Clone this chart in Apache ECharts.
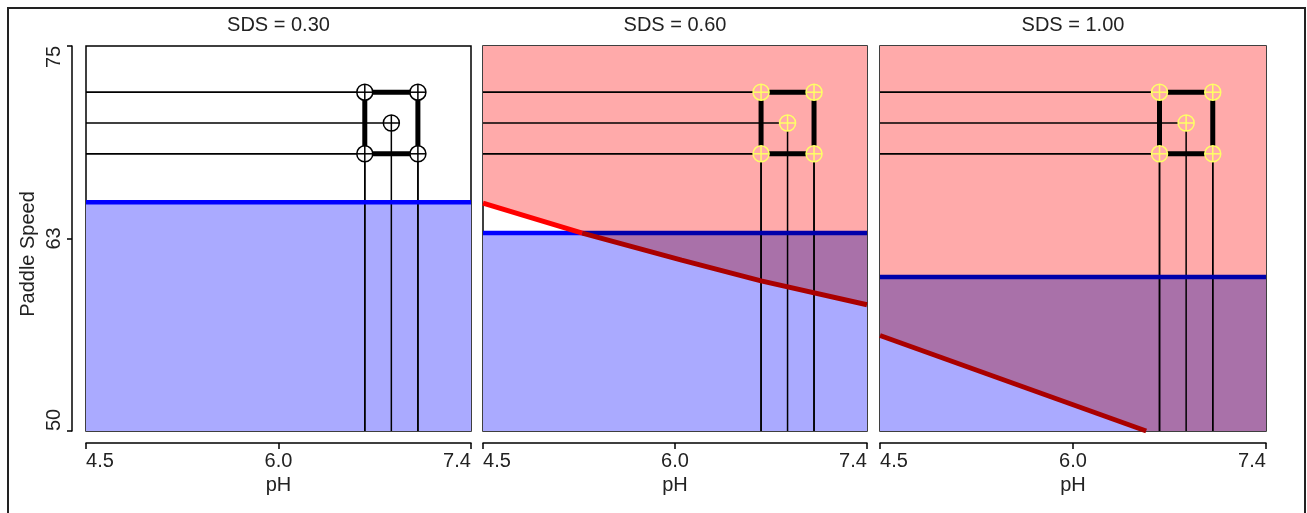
<!DOCTYPE html>
<html><head><meta charset="utf-8">
<script src="https://cdn.jsdelivr.net/npm/echarts@6/dist/echarts.min.js"></script>
<style>html,body{margin:0;padding:0;background:#fff}#c{width:1307px;height:513px}</style>
</head><body><div id="c"></div>
<script>
// ---------- data ----------
const panelTitles = ['SDS = 0.30', 'SDS = 0.60', 'SDS = 1.00'];
const phTicks = [4.5, 5.95, 7.4];
const phTickLabels = ['4.5', '6.0', '7.4'];
const speedTicks = [50, 62.5, 75];
const speedTickLabels = ['50', '63', '75'];
const blueLevel = [64.85, 62.85, 60.0];
const redPH = [null, [4.5, 5.25, 6.0, 6.6, 7.4], [4.5, 6.5, 7.4]];
const redSpeed = [null, [64.8, 62.85, 61.1, 59.75, 58.2], [56.2, 50.0, 47.2]];
const designPH = [6.6, 7.0, 6.8, 6.6, 7.0];
const designSpeed = [72, 72, 70, 68, 68];
const squareOrder = [0, 1, 4, 3, 0];

// ---------- layout / style ----------
const gridLeft = [86, 483, 880];
const gridWidth = [385, 384, 386];
const gridTop = 46, gridHeight = 385;
const FF = '"Liberation Sans", Arial, sans-serif';
const FS = 20;
const TXT = '#222';
const C_BLUE_FILL = '#aaaaff', C_PINK_FILL = '#ffaaaa', C_PURPLE_FILL = '#a971a9';
const C_BLUE = '#0000ff', C_BLUE_DARK = '#0000aa', C_RED = '#ff0000', C_RED_DARK = '#aa0000';
const markerColors = ['#000000', '#ffff66', '#ffff66'];
const xMin = phTicks[0], xMax = phTicks[phTicks.length - 1];
const yMin = speedTicks[0], yMax = speedTicks[speedTicks.length - 1];

function nearestIdx(arr, v) {
  let b = 0;
  arr.forEach((a, k) => { if (Math.abs(a - v) < Math.abs(arr[b] - v)) b = k; });
  return b;
}
// clip polygon to half-plane (keep y >= lim if keepAbove, else y <= lim)
function clipPoly(poly, lim, keepAbove) {
  const inside = p => keepAbove ? p[1] >= lim : p[1] <= lim;
  const out = [];
  for (let k = 0; k < poly.length; k++) {
    const a = poly[k], b = poly[(k + 1) % poly.length];
    const ain = inside(a), bin = inside(b);
    if (ain) out.push(a);
    if (ain !== bin) {
      const t = (lim - a[1]) / (b[1] - a[1]);
      out.push([a[0] + t * (b[0] - a[0]), lim]);
    }
  }
  return out;
}
// split polyline at horizontal level; returns [{pts, above}]
function splitPolyline(pts, lim) {
  const segs = [];
  let cur = [pts[0]];
  let curAbove = pts[0][1] >= lim;
  for (let k = 1; k < pts.length; k++) {
    const a = pts[k - 1], b = pts[k];
    const bAbove = b[1] >= lim;
    if (bAbove !== curAbove && b[1] !== lim) {
      const t = (lim - a[1]) / (b[1] - a[1]);
      const m = [a[0] + t * (b[0] - a[0]), lim];
      cur.push(m);
      segs.push({ pts: cur, above: curAbove });
      cur = [m];
      curAbove = bAbove;
    }
    cur.push(b);
  }
  segs.push({ pts: cur, above: curAbove });
  return segs.filter(s => s.pts.length > 1);
}
function clipPolylineMin(pts, lim) {
  return splitPolyline(pts, lim).filter(s => s.above).map(s => s.pts);
}
function interpRed(i, x) {
  const xs = redPH[i], ys = redSpeed[i];
  for (let k = 1; k < xs.length; k++) {
    if (x <= xs[k]) { const t = (x - xs[k - 1]) / (xs[k] - xs[k - 1]); return ys[k - 1] + t * (ys[k] - ys[k - 1]); }
  }
  return ys[ys.length - 1];
}
const richTxt = { fontSize: FS, fontFamily: FF, color: TXT };

const grids = [], xAxes = [], yAxes = [], series = [], graphics = [];
graphics.push({ type: 'rect', z: 0, shape: { x: 8, y: 8, width: 1297, height: 520 },
  style: { fill: 'none', stroke: '#222', lineWidth: 2 } });
graphics.push({ type: 'text', x: 28, y: 254, rotation: Math.PI / 2,
  style: { text: 'Paddle Speed', font: FS + 'px ' + FF, fill: TXT, align: 'center', verticalAlign: 'middle',
    textAlign: 'center', textVerticalAlign: 'middle' } });

for (let i = 0; i < 3; i++) {
  grids.push({ left: gridLeft[i], top: gridTop, width: gridWidth[i], height: gridHeight,
    show: true, borderColor: '#000', borderWidth: 1.5, backgroundColor: '#fff', outerBoundsMode: 'none' });
  graphics.push({ type: 'text', x: gridLeft[i] + gridWidth[i] / 2, y: 25.5,
    style: { text: panelTitles[i], font: FS + 'px ' + FF, fill: TXT, align: 'center', verticalAlign: 'middle',
      textAlign: 'center', textVerticalAlign: 'middle' } });
  xAxes.push({
    gridIndex: i, type: 'value', min: xMin, max: xMax, position: 'bottom', offset: 12,
    axisLine: { show: true, onZero: false, lineStyle: { color: '#000', width: 1.5 } },
    axisTick: { show: true, length: 6, customValues: phTicks, lineStyle: { color: '#000', width: 1.5 } },
    axisLabel: {
      customValues: phTicks, margin: 8, fontSize: FS, fontFamily: FF, color: TXT,
      formatter: v => {
        const k = nearestIdx(phTicks, v);
        if (k === 0) return '{l|' + phTickLabels[k] + '}';
        if (k === phTicks.length - 1) return '{r|' + phTickLabels[k] + '}';
        return phTickLabels[k];
      },
      rich: { l: Object.assign({ padding: [0, 0, 0, 28] }, richTxt), r: Object.assign({ padding: [0, 28, 0, 0] }, richTxt) }
    },
    splitLine: { show: false },
    name: 'pH', nameLocation: 'middle', nameGap: 30,
    nameTextStyle: { fontSize: FS, fontFamily: FF, color: TXT }
  });
  if (i === 0) {
    yAxes.push({
      gridIndex: i, type: 'value', min: yMin, max: yMax, position: 'left', offset: 14,
      axisLine: { show: true, onZero: false, lineStyle: { color: '#000', width: 1.5 } },
      axisTick: { show: true, length: 5, customValues: speedTicks, lineStyle: { color: '#000', width: 1.5 } },
      axisLabel: {
        customValues: speedTicks, rotate: 90, margin: 8, fontSize: FS, fontFamily: FF, color: TXT,
        formatter: v => {
          const k = nearestIdx(speedTicks, v);
          if (k === 0) return '{l|' + speedTickLabels[k] + '}';
          if (k === speedTicks.length - 1) return '{r|' + speedTickLabels[k] + '}';
          return speedTickLabels[k];
        },
        rich: { l: Object.assign({ padding: [0, 0, 0, 22] }, richTxt), r: Object.assign({ padding: [0, 22, 0, 0] }, richTxt) }
      },
      splitLine: { show: false }
    });
  } else {
    yAxes.push({ gridIndex: i, type: 'value', min: yMin, max: yMax, show: false, splitLine: { show: false } });
  }

  const ax = { xAxisIndex: i, yAxisIndex: i };
  const designData = designPH.map((p, k) => [p, designSpeed[k]]);
  const hasRed = !!redPH[i];
  const redPts = hasRed ? redPH[i].map((p, k) => [p, redSpeed[i][k]]) : null;

  // shaded regions (drawn first)
  series.push(Object.assign({ type: 'custom', z: 1, silent: true, data: [[xMin, yMin]],
    renderItem: (params, api) => {
      const ch = [];
      const bp = [[xMin, yMin], [xMin, blueLevel[i]], [xMax, blueLevel[i]], [xMax, yMin]].map(p => api.coord(p));
      ch.push({ type: 'polygon', shape: { points: bp }, style: { fill: C_BLUE_FILL, stroke: 'none' } });
      if (hasRed) {
        let pink = redPts.slice();
        pink.push([xMax, yMax]); pink.push([xMin, yMax]);
        pink = clipPoly(pink, yMin, true);
        ch.push({ type: 'polygon', shape: { points: pink.map(p => api.coord(p)) }, style: { fill: C_PINK_FILL, stroke: 'none' } });
        const purple = clipPoly(pink, blueLevel[i], false);
        if (purple.length > 2) {
          ch.push({ type: 'polygon', shape: { points: purple.map(p => api.coord(p)) }, style: { fill: C_PURPLE_FILL, stroke: 'none' } });
        }
      }
      return { type: 'group', children: ch };
    } }, ax));

  // crosshair reference lines
  series.push(Object.assign({ type: 'custom', z: 2, silent: true, data: designData,
    renderItem: (params, api) => {
      const x = api.value(0), y = api.value(1);
      const c = api.coord([x, y]), l = api.coord([xMin, y]), b = api.coord([x, yMin]);
      const st = { stroke: '#000', lineWidth: 1.5, fill: 'none' };
      return { type: 'group', children: [
        { type: 'line', shape: { x1: l[0], y1: c[1], x2: c[0], y2: c[1] }, style: st },
        { type: 'line', shape: { x1: c[0], y1: c[1], x2: c[0], y2: b[1] }, style: st }
      ] };
    } }, ax));

  // blue contour line, darker where it lies inside the pink region (above red line)
  let blueBreaks = [xMin, xMax];
  if (hasRed) {
    splitPolyline(redPts, blueLevel[i]).forEach(s => { blueBreaks.push(s.pts[0][0]); blueBreaks.push(s.pts[s.pts.length - 1][0]); });
    blueBreaks = blueBreaks.filter(x => x >= xMin && x <= xMax).sort((a, b) => a - b);
  }
  for (let k = 1; k < blueBreaks.length; k++) {
    const a = blueBreaks[k - 1], b = blueBreaks[k];
    if (b - a < 1e-9) continue;
    const inPink = hasRed && interpRed(i, (a + b) / 2) < blueLevel[i];
    series.push(Object.assign({ type: 'line', z: 3, silent: true, symbol: 'none', clip: true,
      data: [[a, blueLevel[i]], [b, blueLevel[i]]],
      lineStyle: { color: inPink ? C_BLUE_DARK : C_BLUE, width: 4.5, cap: 'butt' } }, ax));
  }
  // red contour line, darker where it lies inside the blue region
  if (hasRed) {
    clipPolylineMin(redPts, yMin).forEach(part => {
      splitPolyline(part, blueLevel[i]).forEach(s => {
        series.push(Object.assign({ type: 'line', z: 3, silent: true, symbol: 'none', clip: true,
          data: s.pts,
          lineStyle: { color: s.above ? C_RED : C_RED_DARK, width: 5, cap: 'butt' } }, ax));
      });
    });
  }

  // design square
  series.push(Object.assign({ type: 'line', z: 4, silent: true, symbol: 'none',
    data: squareOrder.map(k => [designPH[k], designSpeed[k]]),
    lineStyle: { color: '#000', width: 5, join: 'miter' } }, ax));

  // markers: knocked-out centre showing the region colour, cross-hair circle
  const markerFill = hasRed ? C_PINK_FILL : '#ffffff';
  series.push(Object.assign({ type: 'custom', z: 5, silent: true, data: designData,
    renderItem: (params, api) => {
      const c = api.coord([api.value(0), api.value(1)]);
      const r = 8;
      const st = { stroke: markerColors[i], lineWidth: 1.5, fill: 'none' };
      return { type: 'group', children: [
        { type: 'circle', shape: { cx: c[0], cy: c[1], r: r }, style: { stroke: markerColors[i], lineWidth: 1.5, fill: markerFill } },
        { type: 'line', shape: { x1: c[0] - r, y1: c[1], x2: c[0] + r, y2: c[1] }, style: st },
        { type: 'line', shape: { x1: c[0], y1: c[1] - r, x2: c[0], y2: c[1] + r }, style: st }
      ] };
    } }, ax));
}

const chart = echarts.init(document.getElementById('c'), null, { renderer: 'canvas' });
chart.setOption({
  animation: false,
  backgroundColor: '#ffffff',
  grid: grids, xAxis: xAxes, yAxis: yAxes, series: series, graphic: graphics
});
</script></body></html>
